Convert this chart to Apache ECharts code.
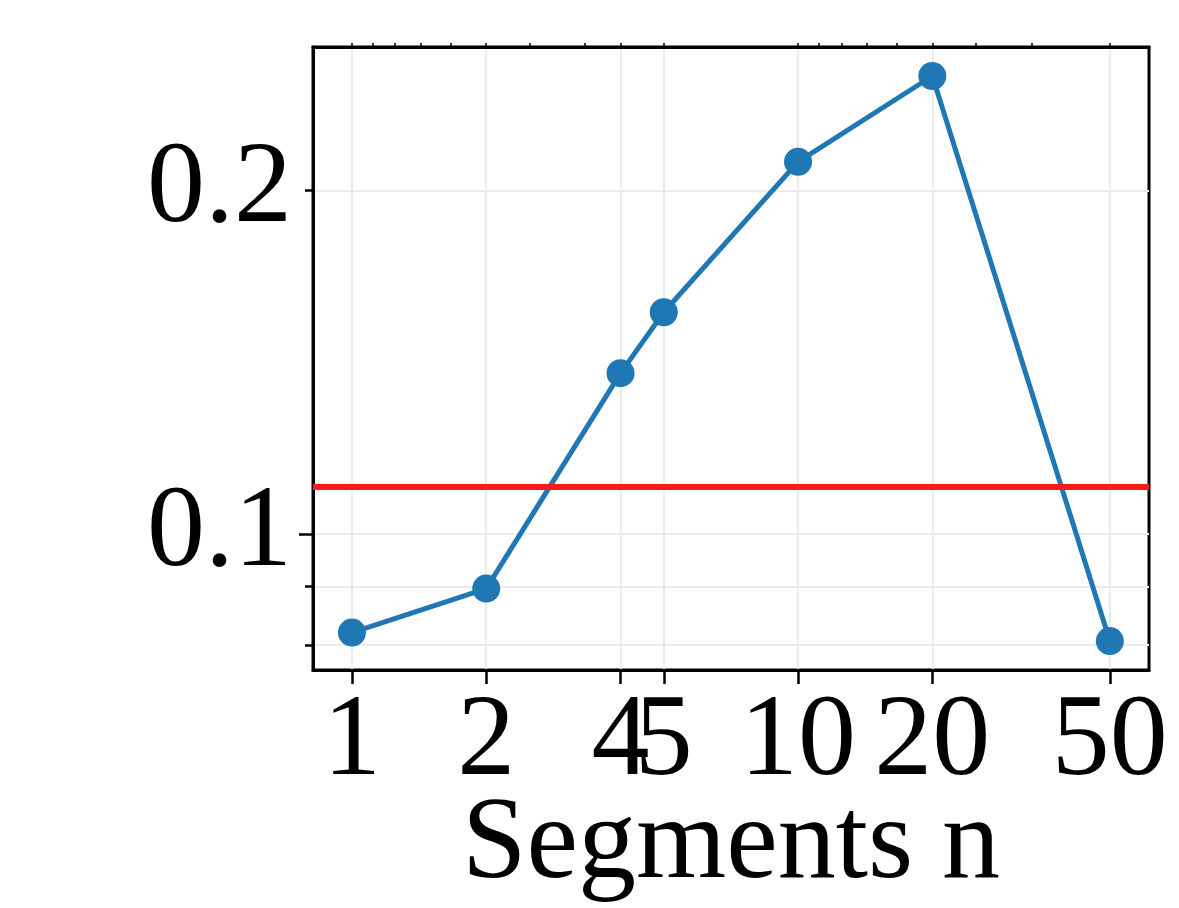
<!DOCTYPE html>
<html>
<head>
<meta charset="utf-8">
<script src="https://cdn.jsdelivr.net/npm/echarts@6/dist/echarts.min.js"></script>
<style>
  html, body { margin: 0; padding: 0; background: #fff; }
  #main { width: 1179px; height: 908px; }
</style>
</head>
<body>
<div id="main"></div>
<script>
// data
let segments = [1, 2, 4, 5, 10, 20, 50];
let scores = [0.0820, 0.0896, 0.1384, 0.1565, 0.2120, 0.2521, 0.0806];
let baseline = 0.1107;   // red reference line

// tick marks
let xTicks = [1, 2, 4, 5, 10, 20, 50];
let topTicks = [1, 1.111, 1.25, 1.429, 1.667, 2, 2.5, 3.333, 4, 5, 10, 11.11, 12.5, 14.29, 16.67, 20, 25, 33.33, 50];
let yLabels = [0.1, 0.2];
let yMinorTicks = [0.08, 0.09, 0.2];
let yMajorTicks = [0.1];

const font = 'Liberation Serif, Times New Roman, serif';
const fontSize = 116;
const gridColor = '#ebebeb';

let chart = echarts.init(document.getElementById('main'), null, { renderer: 'canvas' });

let points = segments.map((s, i) => [s, scores[i]]);

const option = {
  animation: false,
  backgroundColor: '#fff',
  grid: {
    left: 313,
    right: 30,
    top: 47,
    bottom: 238,
    outerBoundsMode: 'none',
    containLabel: false,
    show: true,
    borderColor: '#000',
    borderWidth: 3,
    backgroundColor: 'transparent'
  },
  xAxis: [
    {
      type: 'log',
      logBase: 10,
      min: 0.8178,
      max: 61.2,
      position: 'bottom',
      axisLine: { show: true, lineStyle: { color: '#000', width: 3 } },
      axisTick: { show: true, length: 14, lineStyle: { color: '#000', width: 2.5 }, customValues: xTicks },
      axisLabel: {
        show: true,
        customValues: xTicks,
        margin: 16,
        hideOverlap: false,
        fontFamily: font,
        fontSize: fontSize,
        color: '#000',
        formatter: v => String(Math.round(v))
      },
      splitLine: { show: true, lineStyle: { color: gridColor, width: 2 } },
      name: 'Segments n',
      nameLocation: 'middle',
      nameGap: 119,
      nameMoveOverlap: false,
      nameTextStyle: { fontFamily: font, fontSize: fontSize, color: '#000' }
    },
    {
      type: 'log',
      logBase: 10,
      min: 0.8178,
      max: 61.2,
      position: 'top',
      axisLine: { show: true, lineStyle: { color: '#000', width: 3 } },
      axisTick: { show: true, length: 4, lineStyle: { color: '#000', width: 1.5 }, customValues: topTicks },
      axisLabel: { show: false },
      splitLine: { show: false }
    }
  ],
  yAxis: [
    {
      type: 'log',
      logBase: 10,
      min: 0.07603,
      max: 0.2673,
      position: 'left',
      axisLine: { show: true, lineStyle: { color: '#000', width: 3 } },
      axisTick: { show: true, length: 8, lineStyle: { color: '#000', width: 2.5 }, customValues: yMinorTicks },
      axisLabel: {
        show: true,
        customValues: yLabels,
        margin: 21,
        fontFamily: font,
        fontSize: fontSize,
        color: '#000',
        formatter: v => String(+v.toPrecision(3))
      },
      splitLine: { show: true, lineStyle: { color: gridColor, width: 2 } }
    },
    {
      type: 'log',
      logBase: 10,
      min: 0.07603,
      max: 0.2673,
      position: 'left',
      axisLine: { show: false },
      axisTick: { show: true, length: 14, lineStyle: { color: '#000', width: 2.5 }, customValues: yMajorTicks },
      axisLabel: { show: false },
      splitLine: { show: true, lineStyle: { color: gridColor, width: 2 } }
    }
  ],
  series: [
    {
      name: 'score',
      type: 'line',
      xAxisIndex: 0,
      yAxisIndex: 0,
      data: points,
      symbol: 'circle',
      symbolSize: 28,
      showSymbol: true,
      lineStyle: { color: '#1f77b4', width: 5 },
      itemStyle: { color: '#1f77b4' },
      z: 3,
      markLine: {
        silent: true,
        symbol: 'none',
        label: { show: false },
        lineStyle: { color: '#fa1a1a', width: 6, type: 'solid' },
        data: [{ yAxis: baseline }],
        z: 5
      }
    }
  ]
};

chart.setOption(option);
</script>
</body>
</html>
